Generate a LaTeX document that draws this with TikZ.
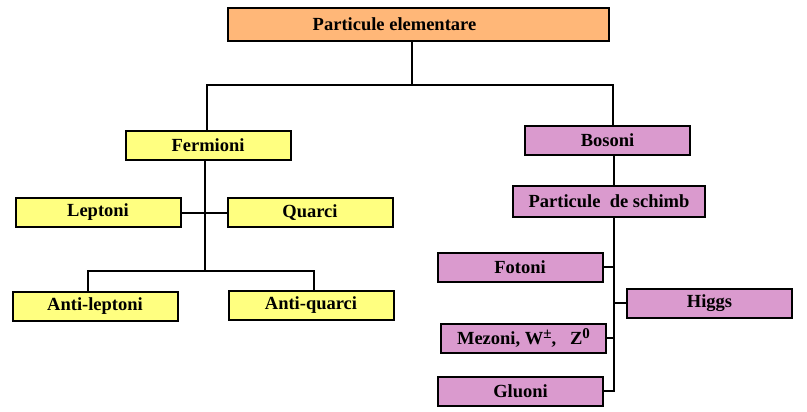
\documentclass[tikz,border=0pt]{standalone}
\usepackage{fontspec}
\setmainfont{Liberation Serif}
\usepackage{tikz}
\usetikzlibrary{positioning, calc}
\definecolor{toporange}{RGB}{255,183,120}
\definecolor{fermyellow}{RGB}{255,255,128}
\definecolor{bospink}{RGB}{218,154,206}
\newcommand{\supsc}[1]{\raisebox{6pt}{\fontsize{15}{15}\selectfont #1}}
\tikzset{
  block/.style    = {rectangle, draw=black, line width=2pt, fill=#1,
                     minimum width=165pt, minimum height=29pt, inner sep=0pt,
                     font=\bfseries\fontsize{18.5}{20}\selectfont},
  block/.default  = fermyellow,
  link/.style     = {line width=2pt},
}

\begin{document}
\begin{tikzpicture}[x=1pt, y=-1pt]
  \useasboundingbox (0,0) rectangle (807,412);
  % top level
  \node[block=toporange, minimum width=381pt, minimum height=33pt] (top) at (418.5,24.5)
    {\hspace*{-48pt}Particule elementare};
  \node[block] (fermioni) at (208,145.5) {Fermioni};
  \node[block=bospink] (bosoni) at (607.5,140.5) {Bosoni};

  % fermioni branch
  \node[block] (leptoni) at (98,212.5) {Leptoni};
  \node[block] (quarci) at (310,212.5) {Quarci};
  \node[block] (antileptoni) at (95,306) {Anti-leptoni};
  \node[block] (antiquarci) at (311,305) {Anti-quarci};

  % bosoni branch
  \node[block=bospink, minimum width=192pt, minimum height=31pt] (schimb) at (609,201.5)
    {Particule\ \ de schimb};
  \node[block=bospink] (fotoni) at (520,267) {Fotoni};
  \node[block=bospink] (higgs) at (709.5,303) {Higgs};
  \node[block=bospink] (mezoni) at (523.5,338)
    {Mezoni, W\supsc{±},\ \ \ Z\supsc{0}};
  \node[block=bospink] (gluoni) at (520.5,391) {Gluoni};

  \coordinate (split) at (412,85);
  \coordinate (antisplit) at (205,271);
  \coordinate (spine) at (614,0);

  \draw[link] (top.south -| split) -- (split);
  \draw[link] ([xshift=-1pt]fermioni.north) |- (split) -| ([xshift=5pt]bosoni.north);
  \draw[link] ([xshift=-3pt]fermioni.south) -- (antisplit);
  \draw[link] ([xshift=-7pt]antileptoni.north) |- (antisplit) -| ([xshift=3pt]antiquarci.north);
  \draw[link] (leptoni) -- (quarci);

  \draw[link] (bosoni.south -| spine) -- (schimb.north -| spine);
  \draw[link] (schimb.south -| spine) -- ([yshift=-1pt]gluoni.east -| spine);
  \draw[link] (fotoni.east) -- (fotoni.east -| spine);
  \draw[link] (higgs.west) -- (higgs.west -| spine);
  \draw[link] (mezoni.east) -- (mezoni.east -| spine);
  \draw[link] (gluoni.east) -- (gluoni.east -| spine);
\end{tikzpicture}
\end{document}
